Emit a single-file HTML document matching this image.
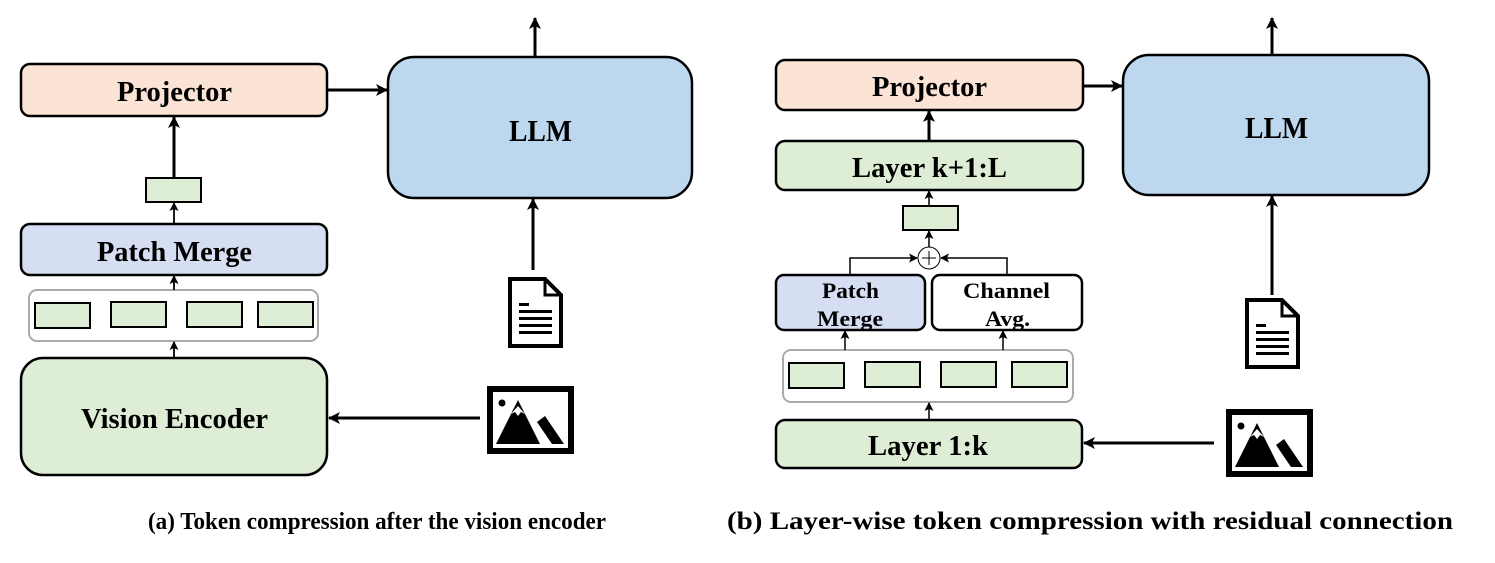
<!DOCTYPE html>
<html><head><style>
html,body{margin:0;padding:0;background:#fff}
svg{display:block}
text{font-family:"Liberation Serif",serif;font-weight:bold;fill:#000}
</style></head><body>
<svg width="1495" height="563" viewBox="0 0 1495 563" xmlns="http://www.w3.org/2000/svg">
<defs>
<marker id="ah" markerWidth="12" markerHeight="12" refX="11" refY="6" orient="auto" markerUnits="userSpaceOnUse">
<path d="M0,0 L12,6 L0,12 L3,6 z" fill="#000"/></marker>
<marker id="as" markerWidth="9" markerHeight="9" refX="8" refY="4.5" orient="auto" markerUnits="userSpaceOnUse">
<path d="M0,0 L9,4.5 L0,9 L2,4.5 z" fill="#000"/></marker>
<g id="doc">
<path d="M2,2 L37,2 L53,18 L53,69 L2,69 Z" fill="#fff" stroke="#000" stroke-width="4"/>
<path d="M37,2 L37,18 L53,18" fill="none" stroke="#000" stroke-width="3"/>
<rect x="11" y="26" width="10" height="3" fill="#000"/>
<rect x="11" y="33" width="33" height="3" fill="#000"/>
<rect x="11" y="40" width="33" height="3" fill="#000"/>
<rect x="11" y="47" width="33" height="3" fill="#000"/>
<rect x="11" y="54" width="33" height="3" fill="#000"/>
</g>
<g id="img">
<rect x="3" y="3" width="81" height="62" fill="#fff" stroke="#000" stroke-width="6"/>
<circle cx="15" cy="17" r="3.5" fill="#000"/>
<path d="M9,58 L31,14 L53,58 Z" fill="#000"/>
<path d="M24,28 L31,20 L38,28 L34,26 L31,30 L28,26 Z" fill="#fff"/>
<path d="M50,36 L58,30 L77,58 L65,58 Z" fill="#000"/>
</g>
</defs>

<!-- LEFT PANEL -->
<rect x="21" y="64" width="306" height="52" rx="9" fill="#fbe3d5" stroke="#000" stroke-width="2.5"/>
<text x="117" y="101" font-size="28" textLength="115" lengthAdjust="spacingAndGlyphs">Projector</text>
<rect x="388" y="57" width="304" height="141" rx="26" fill="#bdd7ee" stroke="#000" stroke-width="2.5"/>
<text x="509" y="141" font-size="31" textLength="63" lengthAdjust="spacingAndGlyphs">LLM</text>
<line x1="327" y1="90" x2="387" y2="90" stroke="#000" stroke-width="3" marker-end="url(#ah)"/>
<line x1="535" y1="57" x2="535" y2="18" stroke="#000" stroke-width="3" marker-end="url(#ah)"/>
<rect x="146" y="178" width="55" height="24" fill="#deedd5" stroke="#000" stroke-width="2"/>
<line x1="174" y1="178" x2="174" y2="117" stroke="#000" stroke-width="3" marker-end="url(#ah)"/>
<rect x="21" y="224" width="306" height="51" rx="9" fill="#d5def3" stroke="#000" stroke-width="2.5"/>
<text x="97" y="261" font-size="28" textLength="155" lengthAdjust="spacingAndGlyphs">Patch Merge</text>
<line x1="174" y1="224" x2="174" y2="203" stroke="#000" stroke-width="1.8" marker-end="url(#as)"/>
<rect x="29" y="290" width="289" height="51" rx="8" fill="#fff" stroke="#aaa" stroke-width="2"/>
<rect x="35" y="303" width="55" height="25" fill="#deedd5" stroke="#000" stroke-width="2"/>
<rect x="111" y="302" width="55" height="25" fill="#deedd5" stroke="#000" stroke-width="2"/>
<rect x="187" y="302" width="55" height="25" fill="#deedd5" stroke="#000" stroke-width="2"/>
<rect x="258" y="302" width="55" height="25" fill="#deedd5" stroke="#000" stroke-width="2"/>
<line x1="174" y1="290" x2="174" y2="276" stroke="#000" stroke-width="1.8" marker-end="url(#as)"/>
<rect x="21" y="358" width="306" height="117" rx="22" fill="#deedd5" stroke="#000" stroke-width="2.5"/>
<text x="81" y="428" font-size="28" textLength="187" lengthAdjust="spacingAndGlyphs">Vision Encoder</text>
<line x1="174" y1="357" x2="174" y2="342" stroke="#000" stroke-width="1.8" marker-end="url(#as)"/>
<line x1="480" y1="418" x2="329" y2="418" stroke="#000" stroke-width="3" marker-end="url(#ah)"/>
<line x1="533" y1="270" x2="533" y2="199" stroke="#000" stroke-width="3" marker-end="url(#ah)"/>
<use href="#doc" x="508" y="277"/>
<use href="#img" x="487" y="386"/>
<text x="148" y="529" font-size="24" textLength="458" lengthAdjust="spacingAndGlyphs">(a)  Token compression after the vision encoder</text>

<!-- RIGHT PANEL -->
<rect x="776" y="60" width="307" height="50" rx="9" fill="#fbe3d5" stroke="#000" stroke-width="2.5"/>
<text x="872" y="96" font-size="28" textLength="115" lengthAdjust="spacingAndGlyphs">Projector</text>
<rect x="1123" y="55" width="306" height="140" rx="26" fill="#bdd7ee" stroke="#000" stroke-width="2.5"/>
<text x="1245" y="138" font-size="31" textLength="63" lengthAdjust="spacingAndGlyphs">LLM</text>
<line x1="1083" y1="86" x2="1122" y2="86" stroke="#000" stroke-width="3" marker-end="url(#ah)"/>
<line x1="1272" y1="55" x2="1272" y2="18" stroke="#000" stroke-width="3" marker-end="url(#ah)"/>
<rect x="776" y="141" width="307" height="49" rx="9" fill="#deedd5" stroke="#000" stroke-width="2.5"/>
<text x="852" y="177" font-size="28" textLength="155" lengthAdjust="spacingAndGlyphs">Layer k+1:L</text>
<line x1="929" y1="141" x2="929" y2="111" stroke="#000" stroke-width="3" marker-end="url(#ah)"/>
<rect x="903" y="206" width="55" height="24" fill="#deedd5" stroke="#000" stroke-width="2"/>
<line x1="929" y1="247" x2="929" y2="231" stroke="#000" stroke-width="1.5" marker-end="url(#as)"/>
<line x1="929" y1="206" x2="929" y2="191" stroke="#000" stroke-width="1.5" marker-end="url(#as)"/>
<circle cx="929" cy="258" r="11" fill="#fff" stroke="#000" stroke-width="1"/>
<line x1="922" y1="258" x2="936" y2="258" stroke="#000" stroke-width="1"/>
<line x1="929" y1="251" x2="929" y2="265" stroke="#000" stroke-width="1"/>
<polyline points="850,275 850,258 917,258" fill="none" stroke="#000" stroke-width="1.5" marker-end="url(#as)"/>
<polyline points="1007,275 1007,258 941,258" fill="none" stroke="#000" stroke-width="1.5" marker-end="url(#as)"/>
<rect x="776" y="275" width="149" height="55" rx="8" fill="#d5def3" stroke="#000" stroke-width="2.5"/>
<text x="822" y="298" font-size="22" textLength="57" lengthAdjust="spacingAndGlyphs">Patch</text>
<text x="817" y="326" font-size="22" textLength="66" lengthAdjust="spacingAndGlyphs">Merge</text>
<rect x="932" y="275" width="150" height="55" rx="8" fill="#fff" stroke="#000" stroke-width="2.5"/>
<text x="963" y="298" font-size="22" textLength="87" lengthAdjust="spacingAndGlyphs">Channel</text>
<text x="985" y="326" font-size="22" textLength="45" lengthAdjust="spacingAndGlyphs">Avg.</text>
<rect x="783" y="350" width="290" height="52" rx="8" fill="#fff" stroke="#aaa" stroke-width="2"/>
<rect x="789" y="363" width="55" height="25" fill="#deedd5" stroke="#000" stroke-width="2"/>
<rect x="865" y="362" width="55" height="25" fill="#deedd5" stroke="#000" stroke-width="2"/>
<rect x="941" y="362" width="55" height="25" fill="#deedd5" stroke="#000" stroke-width="2"/>
<rect x="1012" y="362" width="55" height="25" fill="#deedd5" stroke="#000" stroke-width="2"/>
<line x1="845" y1="350" x2="845" y2="331" stroke="#000" stroke-width="1.5" marker-end="url(#as)"/>
<line x1="1003" y1="350" x2="1003" y2="331" stroke="#000" stroke-width="1.5" marker-end="url(#as)"/>
<rect x="776" y="420" width="306" height="48" rx="9" fill="#deedd5" stroke="#000" stroke-width="2.5"/>
<text x="868" y="455" font-size="28" textLength="120" lengthAdjust="spacingAndGlyphs">Layer 1:k</text>
<line x1="929" y1="420" x2="929" y2="403" stroke="#000" stroke-width="1.5" marker-end="url(#as)"/>
<line x1="1214" y1="443" x2="1084" y2="443" stroke="#000" stroke-width="3" marker-end="url(#ah)"/>
<line x1="1272" y1="295" x2="1272" y2="196" stroke="#000" stroke-width="3" marker-end="url(#ah)"/>
<use href="#doc" x="1245" y="298"/>
<use href="#img" x="1226" y="409"/>
<text x="727" y="529" font-size="25" textLength="726" lengthAdjust="spacingAndGlyphs">(b)  Layer-wise token compression with residual connection</text>
</svg>
</body></html>
